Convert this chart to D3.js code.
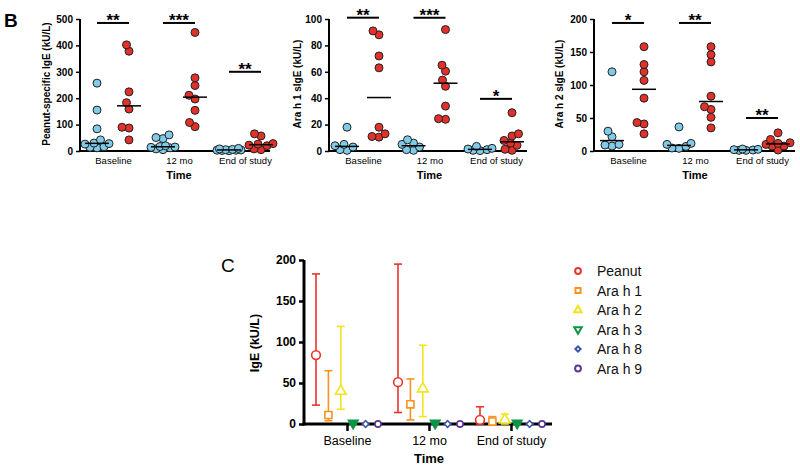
<!DOCTYPE html>
<html><head><meta charset="utf-8">
<script src="https://cdn.jsdelivr.net/npm/d3@7/dist/d3.min.js"></script>
<style>
body{margin:0;background:#fff;}
svg{display:block;font-family:"Liberation Sans",Arial,sans-serif;}
</style></head>
<body><svg id="c" width="800" height="469"></svg>
<script>
// ---------- DATA ----------
const timepoints = ["Baseline", "12 mo", "End of study"];

// Panel B1: Peanut-specific IgE (kU/L) – per timepoint; blue group and red group
const peanutBlue = [[257,155,84,42,30,28,26,16,14,12],[61,51,47,20,17,15,14,12,8,5],[10,8,6,5,4,3,3,2,1]];
const peanutRed  = [[402,378,224,183,159,90,87,42],[449,277,248,211,197,154,108,92],[65,57,28,26,22,20,8,5]];
const peanutTicks = [0,100,200,300,400,500];
const peanutStars = ["**","***","**"];
const peanutBars  = [485,485,300];

// Panel B2: Ara h 1 sIgE
const arah1Blue = [[18,5,4,3,1,0.5],[8.5,6,5,3,1,0.5],[3.5,2,1.5,1,0.5,0.3]];
const arah1Red  = [[91,88,72,63,18,13,11,10.5],[92,65,60.5,53.7,49,34,24.5,24],[29,13,11.4,8,6,4.3,1.3,0.5]];
const arah1Ticks = [0,20,40,60,80,100];
const arah1Stars = ["**","***","*"];
const arah1Bars  = [101,101,39.5];

// Panel B3: Ara h 2 sIgE
const arah2Blue = [[120,30,21.5,10,9,7.5],[36.5,11.5,10,7,4.5,4],[3,2.5,2,1.5,1,1]];
const arah2Red  = [[158,131,120,107,80,43,41,26],[158,146,135,83,67,63,51,35],[27.5,17.5,12.5,11.5,10,7.5,7.5,1.5]];
const arah2Ticks = [0,50,100,150,200];
const arah2Stars = ["*","**","**"];
const arah2Bars  = [194,194,50];

// Panel C: median with range
const allergens = ["Peanut","Ara h 1","Ara h 2","Ara h 3","Ara h 8","Ara h 9"];
const allergenColors = ["#e8342b","#f7931e","#f2e41c","#0b9444","#3f55a6","#5b3795"];
const allergenShapes = ["circle","square","triangle","triangleDown","diamond","circle"];
const medianC = [[84,11,40,1,0,0],[51,24,43,1,0,0],[5,3,5,1,0,0]];
const lowC    = [[23,4,18,0,0,0],[14,5,9,0,0,0],[0,0,0,0,0,0]];
const highC   = [[183,65,119,2,0,0],[195,55,96,2,0,0],[21,9,12,2,0,0]];
const cTicks = [0,50,100,150,200];

// ---------- DRAW ----------
const svg = d3.select("#c");
const F = '"Liberation Sans",Arial,sans-serif';

svg.append("text").attr("x",4).attr("y",27).attr("font-size",19).attr("font-weight","bold").text("B");
svg.append("text").attr("x",221).attr("y",272).attr("font-size",19).text("C");

function beeswarm(vals, cx, y, minD, maxOff){
  const placed=[];
  const sorted = vals.slice().sort((a,b)=>a-b);
  sorted.forEach(v=>{
    const py=y(v); let best=null;
    for(let k=0;k<400;k++){
      const off = (k%2===0?1:-1)*Math.ceil(k/2)*0.5;
      if(Math.abs(off)>maxOff) break;
      const px=cx+off;
      if(placed.every(p=>Math.hypot(p.x-px,p.y-py)>=minD)){best=px;break;}
    }
    if(best===null){
      // pick offset with largest clearance
      let bc=-1;
      for(let off=-maxOff;off<=maxOff;off+=0.5){
        const c=d3.min(placed,p=>Math.hypot(p.x-(cx+off),p.y-py));
        if(c>bc){bc=c;best=cx+off;}
      }
    }
    placed.push({x:best,y:py});
  });
  return placed;
}

function scatterPanel(cfg){
  const g = svg.append("g");
  const y = d3.scaleLinear().domain([0,cfg.max]).range([151,19]);
  const x = d3.scalePoint().domain(timepoints).range(cfg.xr);
  const r = 4;
  const ya = g.append("g").attr("transform",`translate(${cfg.x0},0)`)
    .call(d3.axisLeft(y).tickValues(cfg.ticks).tickSize(4).tickPadding(3));
  ya.select(".domain").attr("stroke","#000").attr("stroke-width",2).attr("d",`M0,152V${y(cfg.max)}`);
  ya.selectAll(".tick line").attr("stroke","#000").attr("stroke-width",1.5);
  ya.selectAll(".tick text").attr("font-family",F).attr("font-size",10).attr("font-weight","bold").attr("fill","#000");
  const xa = g.append("g").attr("transform","translate(0,151)")
    .call(d3.axisBottom(x).tickSize(0).tickPadding(6));
  xa.select(".domain").attr("stroke","#000").attr("stroke-width",2).attr("d",`M${cfg.x0},0H${cfg.x1}`);
  xa.selectAll(".tick text").attr("font-family",F).attr("font-size",9.5).attr("fill","#000");
  g.append("text").attr("transform",`translate(${cfg.tx},84) rotate(-90)`).attr("text-anchor","middle")
    .attr("font-size",10).attr("font-weight","bold").text(cfg.title);
  g.append("text").attr("x",x("12 mo")).attr("y",179).attr("text-anchor","middle")
    .attr("font-size",11).attr("font-weight","bold").text("Time");
  timepoints.forEach((t,i)=>{
    [[cfg.blue[i],-16,"#7fcbe8"],[cfg.red[i],16,"#e1312a"]].forEach(([vals,off,col])=>{
      const cx = x(t)+off;
      const pts = beeswarm(vals,cx,y,6.8,12);
      g.selectAll(null).data(pts).join("circle").attr("cx",d=>d.x).attr("cy",d=>d.y).attr("r",r)
        .attr("fill",col).attr("stroke","#222").attr("stroke-width",1);
      const m = d3.median(vals);
      g.append("line").attr("x1",cx-12).attr("x2",cx+12).attr("y1",y(m)).attr("y2",y(m))
        .attr("stroke","#000").attr("stroke-width",1.5);
    });
    const by = y(cfg.bars[i]);
    g.append("line").attr("x1",x(t)-16).attr("x2",x(t)+16).attr("y1",by).attr("y2",by)
      .attr("stroke","#000").attr("stroke-width",2);
    g.append("text").attr("x",x(t)).attr("y",by+3).attr("text-anchor","middle")
      .attr("font-size",17).attr("font-weight","bold").text(cfg.stars[i]);
  });
}

scatterPanel({x0:80,x1:270,xr:[113,245],max:500,ticks:peanutTicks,blue:peanutBlue,red:peanutRed,
  stars:peanutStars,bars:peanutBars,tx:50,title:"Peanut-specific IgE (kU/L)"});
scatterPanel({x0:329,x1:527,xr:[363,496],max:100,ticks:arah1Ticks,blue:arah1Blue,red:arah1Red,
  stars:arah1Stars,bars:arah1Bars,tx:301,title:"Ara h 1 sIgE (kU/L)"});
scatterPanel({x0:594,x1:795,xr:[628,762],max:200,ticks:arah2Ticks,blue:arah2Blue,red:arah2Red,
  stars:arah2Stars,bars:arah2Bars,tx:563,title:"Ara h 2 sIgE (kU/L)"});

// ---------- Panel C ----------
const gc = svg.append("g");
const yc = d3.scaleLinear().domain([0,200]).range([424,260]);
const xc = d3.scalePoint().domain(timepoints).range([347,511]);
const xo = d3.scalePoint().domain(allergens).range([-31,31]);

const yca = gc.append("g").attr("transform","translate(304,0)")
  .call(d3.axisLeft(yc).tickValues(cTicks).tickSize(5).tickPadding(3));
yca.select(".domain").attr("stroke","#000").attr("stroke-width",3).attr("d","M0,425.5V260");
yca.selectAll(".tick line").attr("stroke","#000").attr("stroke-width",2.5);
yca.selectAll(".tick text").attr("font-family",F).attr("font-size",12).attr("font-weight","bold").attr("fill","#000");

const xca = gc.append("g").attr("transform","translate(0,424)")
  .call(d3.axisBottom(xc).tickSize(7).tickPadding(5));
xca.select(".domain").attr("stroke","#000").attr("stroke-width",3).attr("d","M302.5,0H552");
xca.selectAll(".tick line").attr("stroke","#000").attr("stroke-width",2.5);
xca.selectAll(".tick text").attr("font-family",F).attr("font-size",12.5).attr("fill","#000");

gc.append("text").attr("transform","translate(259,343) rotate(-90)").attr("text-anchor","middle")
  .attr("font-size",12.5).attr("font-weight","bold").text("IgE (kU/L)");
gc.append("text").attr("x",429).attr("y",463).attr("text-anchor","middle")
  .attr("font-size",13).attr("font-weight","bold").text("Time");

function marker(sel, shape, s){
  const sym = {circle:d3.symbolCircle,square:d3.symbolSquare,triangle:d3.symbolTriangle,
    triangleDown:d3.symbolTriangle,diamond:d3.symbolSquare}[shape];
  const rot = shape==="triangleDown" ? "rotate(180)" : shape==="diamond" ? "rotate(45)" : null;
  sel.append("path").attr("d",d3.symbol(sym, s)()).attr("transform", rot);
}

timepoints.forEach((t,i)=>{
  allergens.forEach((a,j)=>{
    const cx = xc(t)+xo(a), col = allergenColors[j];
    const g = gc.append("g").attr("stroke",col).attr("stroke-width",1.6).attr("fill","none");
    if(highC[i][j]-lowC[i][j] > 1){
      g.append("line").attr("x1",cx).attr("x2",cx).attr("y1",yc(lowC[i][j])).attr("y2",yc(highC[i][j]));
      [lowC[i][j],highC[i][j]].forEach(v=>g.append("line").attr("x1",cx-4).attr("x2",cx+4).attr("y1",yc(v)).attr("y2",yc(v)));
    }
    const mg = g.append("g").attr("transform",`translate(${cx},${yc(medianC[i][j])})`);
    const sz = [60,50,50,40,22,30][j];
    marker(mg, allergenShapes[j], sz);
    mg.select("path").attr("fill", j===3? col : "#fff");
  });
});

// legend
const lg = svg.append("g");
allergens.forEach((a,j)=>{
  const yy = 271 + j*19.5;
  const mg = lg.append("g").attr("transform",`translate(578,${yy})`)
    .attr("stroke",allergenColors[j]).attr("stroke-width",2).attr("fill","none");
  marker(mg, allergenShapes[j], [26,26,24,24,14,26][j]);
  lg.append("text").attr("x",597).attr("y",yy+5).attr("font-size",14).attr("fill","#111").text(a);
});
</script></body></html>
